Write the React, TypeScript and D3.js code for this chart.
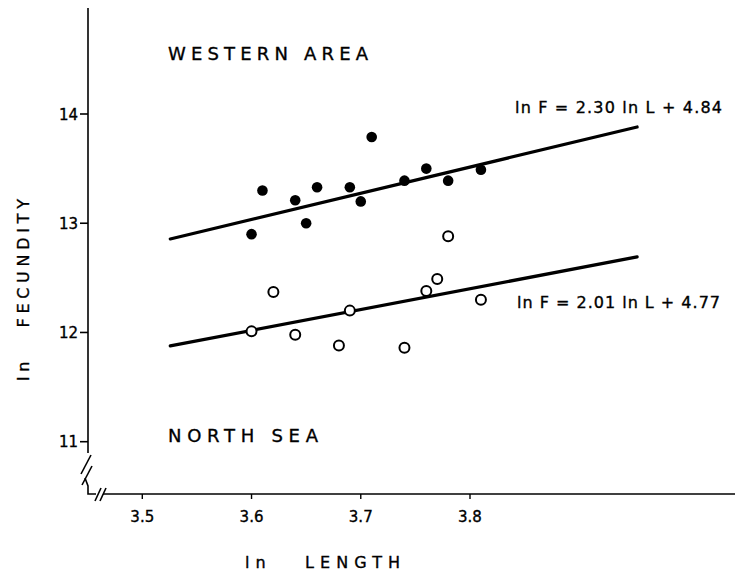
import React from "react";
import * as d3 from "d3";

// Western Area (filled points)
const westLnL = [3.60, 3.61, 3.64, 3.65, 3.66, 3.69, 3.70, 3.71, 3.74, 3.76, 3.78, 3.81];
const westLnF = [12.90, 13.30, 13.21, 13.00, 13.33, 13.33, 13.20, 13.79, 13.39, 13.50, 13.39, 13.49];
// North Sea (open points)
const northLnL = [3.60, 3.62, 3.64, 3.68, 3.69, 3.74, 3.76, 3.77, 3.78, 3.81];
const northLnF = [12.01, 12.37, 11.98, 11.88, 12.20, 11.86, 12.38, 12.49, 12.88, 12.30];
// Regression lines (drawn end points)
const westLineL = [3.5256, 3.953];
const westLineF = [12.856, 13.881];
const northLineL = [3.5256, 3.953];
const northLineF = [11.877, 12.692];

const xTicks = [3.5, 3.6, 3.7, 3.8];
const xTickLabels = ["3.5", "3.6", "3.7", "3.8"];
const yTicks = [11, 12, 13, 14];
const yTickLabels = ["11", "12", "13", "14"];

const eqWest = "ln F = 2.30 ln L + 4.84";
const eqNorth = "ln F = 2.01 ln L + 4.77";

const FONT = "'DejaVu Sans', sans-serif";

export default function App() {
  const x = d3.scaleLinear().domain([3.5, 3.8]).range([142.3, 470]);
  const y = d3.scaleLinear().domain([11, 14]).range([441.7, 114]);
  const axisX = 88;
  const axisY = 494;

  const line = d3
    .line<[number, number]>()
    .x((d) => x(d[0]))
    .y((d) => y(d[1]));

  const westPts = westLnL.map((l, i) => [l, westLnF[i]] as [number, number]);
  const northPts = northLnL.map((l, i) => [l, northLnF[i]] as [number, number]);
  const westLine = westLineL.map((l, i) => [l, westLineF[i]] as [number, number]);
  const northLine = northLineL.map((l, i) => [l, northLineF[i]] as [number, number]);

  const textStyle = { stroke: "#000", strokeWidth: 0.35 };

  return (
    <svg
      width={735}
      height={573}
      style={{ position: "absolute", left: 0, top: 0, background: "#fff" }}
      fontFamily={FONT}
    >
      <rect x={0} y={0} width={735} height={573} fill="#fff" />
      {/* Y axis */}
      <g stroke="#000" strokeWidth={1.6} fill="none">
        <line x1={axisX} y1={8} x2={axisX} y2={453} />
        {/* y break */}
        <line x1={81} y1={474} x2={91} y2={455} />
        <line x1={82} y1={485} x2={92} y2={466} />
        <path d={`M85,478 L88,486 L88,${axisY} L96,${axisY}`} />
        {/* x break */}
        <line x1={95} y1={501} x2={101} y2={488} />
        <line x1={100} y1={501} x2={106} y2={488} />
        <line x1={103} y1={axisY} x2={735} y2={axisY} />
      </g>
      {/* y ticks */}
      {yTicks.map((t, i) => (
        <g key={"yt" + i}>
          <line x1={80} x2={axisX} y1={y(t)} y2={y(t)} stroke="#000" strokeWidth={1.6} />
          <text x={78} y={y(t) + 5.5} textAnchor="end" fontSize={15} style={textStyle}>
            {yTickLabels[i]}
          </text>
        </g>
      ))}
      {/* x ticks */}
      {xTicks.map((t, i) => (
        <g key={"xt" + i}>
          <line x1={x(t)} x2={x(t)} y1={axisY} y2={axisY + 5} stroke="#000" strokeWidth={1.4} />
          <text x={x(t)} y={522} textAnchor="middle" fontSize={15} style={textStyle}>
            {xTickLabels[i]}
          </text>
        </g>
      ))}
      {/* regression lines */}
      <path d={line(westLine) || ""} stroke="#000" strokeWidth={3.2} fill="none" strokeLinecap="round" />
      <path d={line(northLine) || ""} stroke="#000" strokeWidth={3.2} fill="none" strokeLinecap="round" />
      {/* points */}
      {westPts.map((p, i) => (
        <circle key={"w" + i} cx={x(p[0])} cy={y(p[1])} r={5.3} fill="#000" />
      ))}
      {northPts.map((p, i) => (
        <circle key={"n" + i} cx={x(p[0])} cy={y(p[1])} r={5} fill="#fff" stroke="#000" strokeWidth={2} />
      ))}
      {/* labels */}
      <text x={168} y={60} fontSize={18} textLength={200} lengthAdjust="spacing" style={textStyle}>
        WESTERN AREA
      </text>
      <text x={168} y={442} fontSize={18} textLength={150} lengthAdjust="spacing" style={textStyle}>
        NORTH SEA
      </text>
      <text x={515} y={113} fontSize={16} textLength={207} lengthAdjust="spacing" style={textStyle}>
        {eqWest}
      </text>
      <text x={517} y={308} fontSize={16} textLength={203} lengthAdjust="spacing" style={textStyle}>
        {eqNorth}
      </text>
      <text x={245} y={568} fontSize={16} textLength={155} lengthAdjust="spacing" xmlSpace="preserve" style={textStyle}>
        {"ln   LENGTH"}
      </text>
      <text
        transform="translate(29,381) rotate(-90)"
        x={0}
        y={0}
        fontSize={16}
        textLength={182}
        lengthAdjust="spacing"
        xmlSpace="preserve"
        style={textStyle}
      >
        {"ln   FECUNDITY"}
      </text>
    </svg>
  );
}
